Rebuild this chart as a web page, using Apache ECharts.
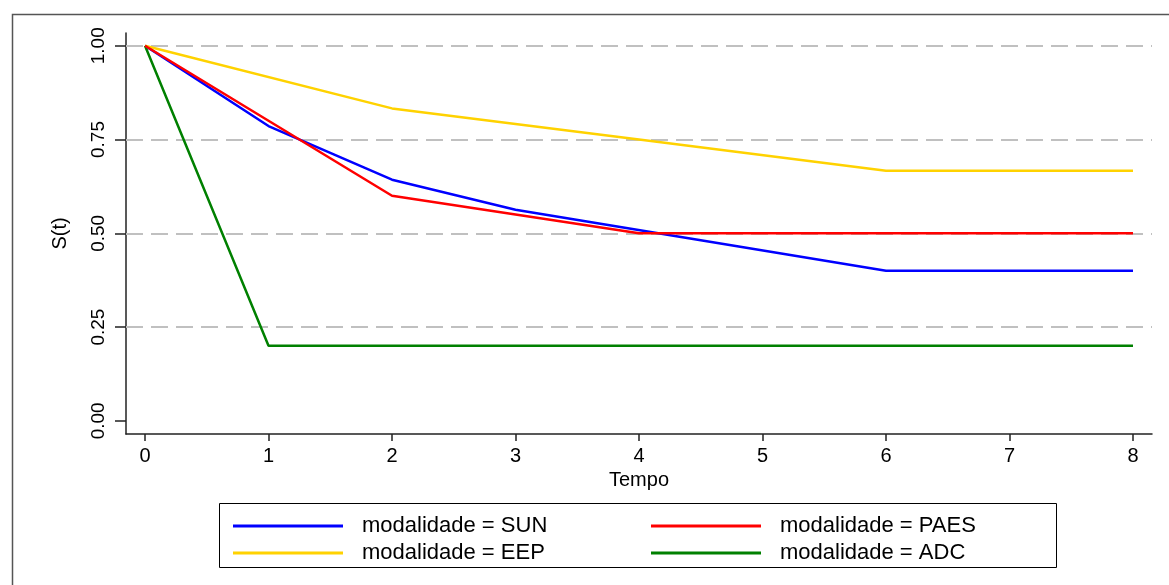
<!DOCTYPE html>
<html>
<head>
<meta charset="utf-8">
<script src="https://cdn.jsdelivr.net/npm/echarts@6/dist/echarts.min.js"></script>
<style>html,body{margin:0;padding:0;background:#fff}#c{width:1169px;height:585px}</style>
</head>
<body>
<div id="c"></div>
<script>
// Data (Kaplan-Meier style survival curves)
const xTicks = [0, 1, 2, 3, 4, 5, 6, 7, 8];
const yTicks = [0, 0.25, 0.5, 0.75, 1];
const yTickLabels = ['0.00', '0.25', '0.50', '0.75', '1.00'];
const gridValues = [0.25, 0.5, 0.75, 1];

const sunTime = [0, 1, 2, 3, 6, 8];
const sunSurv = [1, 0.786, 0.643, 0.563, 0.4, 0.4];
const paesTime = [0, 1, 2, 4, 8];
const paesSurv = [1, 0.8, 0.6, 0.5, 0.5];
const eepTime = [0, 2, 4, 6, 8];
const eepSurv = [1, 0.833, 0.75, 0.667, 0.667];
const adcTime = [0, 1, 8];
const adcSurv = [1, 0.2, 0.2];

const names = ['modalidade = SUN', 'modalidade = PAES', 'modalidade = EEP', 'modalidade = ADC'];
const colors = ['#0000ff', '#ff0000', '#ffd200', '#008000'];

const pairs = (t, s) => t.map((v, i) => [v, s[i]]);
const FONT = '"Liberation Sans", Arial, sans-serif';

const chart = echarts.init(document.getElementById('c'));

function mkSeries(i, t, s, z) {
  return {
    name: names[i], type: 'line', data: pairs(t, s), symbol: 'none',
    lineStyle: { color: colors[i], width: 2.5 }, itemStyle: { color: colors[i] },
    z: z, animation: false
  };
}

const legendCommon = {
  left: 228, itemWidth: 110, itemHeight: 3, itemGap: 39, icon: 'rect',
  orient: 'horizontal', selectedMode: false,
  textStyle: { fontFamily: FONT, fontSize: 22, color: '#000', width: 250, lineHeight: 22, padding: [0, 0, 0, 14] }
};

chart.setOption({
  animation: false,
  backgroundColor: '#fff',
  grid: { left: 126, right: 17, top: 33, bottom: 151 },
  xAxis: {
    type: 'value', min: -0.154, max: 8.154,
    name: 'Tempo', nameLocation: 'middle', nameGap: 30,
    nameTextStyle: { fontFamily: FONT, fontSize: 20, color: '#000' },
    axisLine: { onZero: false, lineStyle: { color: '#222', width: 1.5 } },
    axisTick: { customValues: xTicks, length: 7, lineStyle: { color: '#222', width: 1.5 } },
    axisLabel: { customValues: xTicks, fontFamily: FONT, fontSize: 20, color: '#000', margin: 12 },
    splitLine: { show: false }
  },
  yAxis: {
    type: 'value', min: -0.035, max: 1.034,
    name: 'S(t)', nameLocation: 'middle', nameGap: 56,
    nameTextStyle: { fontFamily: FONT, fontSize: 20, color: '#000' },
    axisLine: { show: true, onZero: false, lineStyle: { color: '#222', width: 1.5 } },
    axisTick: { show: true, customValues: yTicks, length: 11, lineStyle: { color: '#222', width: 1.5 } },
    axisLabel: {
      customValues: yTicks, rotate: 90, fontFamily: FONT, fontSize: 19, color: '#000', margin: 18,
      formatter: v => yTickLabels[yTicks.indexOf(Math.round(v * 100) / 100)] ?? ''
    },
    splitLine: { show: false }
  },
  legend: [
    Object.assign({}, legendCommon, { top: 510, data: [names[0], names[1]] }),
    Object.assign({}, legendCommon, { top: 537, data: [names[2], names[3]] })
  ],
  graphic: [
    { type: 'rect', left: 10, top: 12, shape: { width: 1170, height: 600 }, style: { fill: 'none', stroke: '#555', lineWidth: 1.5 }, silent: true },
    { type: 'rect', left: 217, top: 501, shape: { width: 837, height: 64 }, style: { fill: 'none', stroke: '#000', lineWidth: 1 }, silent: true }
  ],
  series: [
    mkSeries(0, sunTime, sunSurv, 3),
    mkSeries(1, paesTime, paesSurv, 4),
    Object.assign(mkSeries(2, eepTime, eepSurv, 3), {
      markLine: {
        silent: true, symbol: 'none', animation: false, z: 1,
        label: { show: false },
        lineStyle: { color: '#c0c0c0', type: [17, 8], width: 2 },
        data: gridValues.map(v => ({ yAxis: v }))
      }
    }),
    mkSeries(3, adcTime, adcSurv, 3)
  ]
});
</script>
</body>
</html>
